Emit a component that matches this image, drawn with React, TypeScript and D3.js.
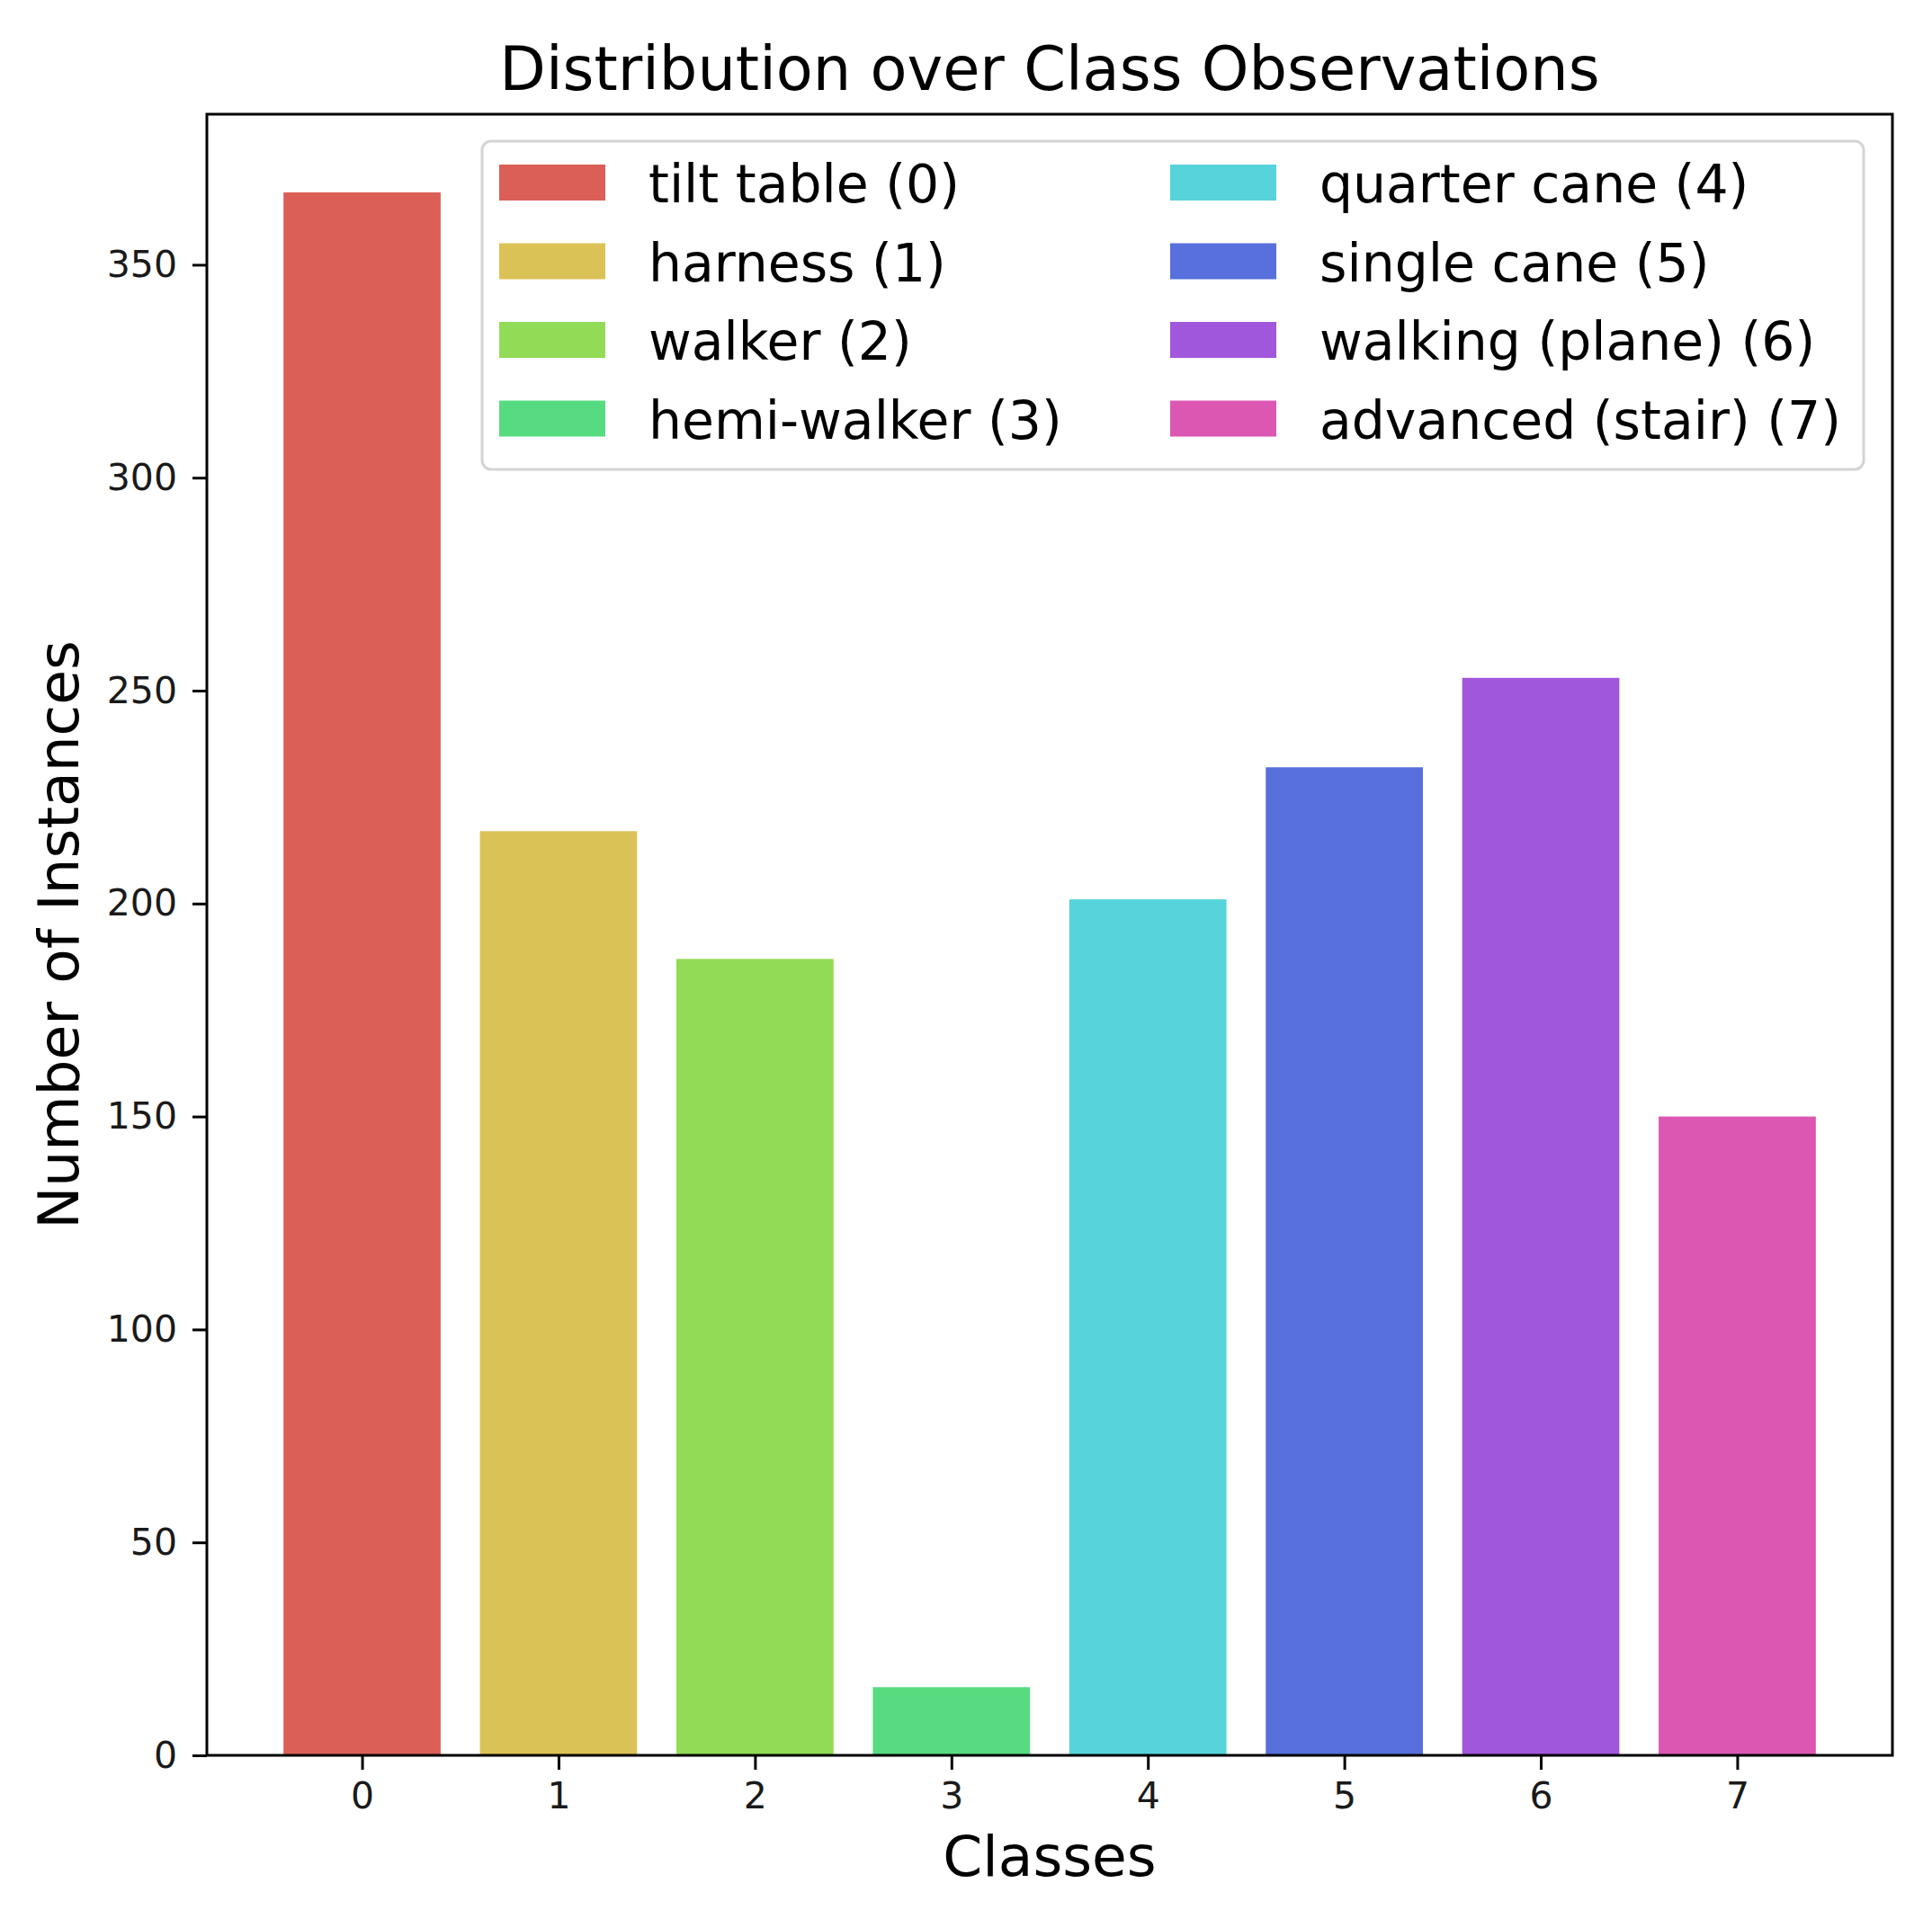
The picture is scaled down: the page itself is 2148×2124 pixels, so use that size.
import { useEffect, useRef } from "react";
import * as d3 from "d3";

const CLASSES = [0, 1, 2, 3, 4, 5, 6, 7];
const COUNTS = [367, 217, 187, 16, 201, 232, 253, 150];
const CLASS_NAMES = [
  "tilt table",
  "harness",
  "walker",
  "hemi-walker",
  "quarter cane",
  "single cane",
  "walking (plane)",
  "advanced (stair)",
];
const COLORS = ["#db5f57", "#dbc257", "#91db57", "#57db80", "#57d3db", "#5770db", "#a157db", "#db57b2"];
const Y_TICKS = [0, 50, 100, 150, 200, 250, 300, 350];

const WIDTH = 2148;
const HEIGHT = 2124;
const FONT = "'DejaVu Sans', 'Liberation Sans', sans-serif";

export default function App() {
  const svgRef = useRef<SVGSVGElement>(null);

  useEffect(() => {
    document.body.style.margin = "0";
    if (!svgRef.current) {
      return;
    }

    const margin = { top: 127, right: 44, bottom: 172, left: 230 };
    const svg = d3.select(svgRef.current);
    svg.selectAll("*").remove();

    // matplotlib style margins: bar extent +-0.4, 5% padding on x, 5% headroom on y
    const x = d3
      .scaleLinear()
      .domain([-0.4 - 0.39, CLASSES.length - 1 + 0.4 + 0.39])
      .range([margin.left, WIDTH - margin.right]);
    const y = d3
      .scaleLinear()
      .domain([0, d3.max(COUNTS)! * 1.05])
      .range([HEIGHT - margin.bottom, margin.top]);
    const barWidth = x(0.4) - x(-0.4);

    svg.append("rect").attr("width", WIDTH).attr("height", HEIGHT).attr("fill", "#ffffff");

    svg
      .append("g")
      .selectAll("rect")
      .data(CLASSES)
      .enter()
      .append("rect")
      .attr("x", (c) => x(c) - barWidth / 2)
      .attr("y", (c) => y(COUNTS[c]))
      .attr("width", barWidth)
      .attr("height", (c) => y(0) - y(COUNTS[c]))
      .attr("fill", (c) => COLORS[c]);

    const yAxis = svg
      .append("g")
      .attr("transform", `translate(${margin.left},0)`)
      .call(d3.axisLeft(y).tickValues(Y_TICKS).tickSize(16).tickPadding(17));
    const xAxis = svg
      .append("g")
      .attr("transform", `translate(0,${HEIGHT - margin.bottom})`)
      .call(d3.axisBottom(x).tickValues(CLASSES).tickSize(16).tickPadding(14).tickFormat(d3.format("d")));

    [yAxis, xAxis].forEach((axis) => {
      axis.select(".domain").remove();
      axis.selectAll("line").attr("stroke", "#000").attr("stroke-width", 3);
      axis
        .selectAll("text")
        .attr("fill", "#1a1a1a")
        .style("font-family", FONT)
        .style("font-size", "41px");
    });

    svg
      .append("rect")
      .attr("x", margin.left)
      .attr("y", margin.top)
      .attr("width", WIDTH - margin.left - margin.right)
      .attr("height", HEIGHT - margin.top - margin.bottom)
      .attr("fill", "none")
      .attr("stroke", "#000")
      .attr("stroke-width", 3);

    // legend, two columns of four
    const legend = svg.append("g").attr("transform", "translate(536,157)");
    legend
      .append("rect")
      .attr("width", 1536)
      .attr("height", 365)
      .attr("rx", 10)
      .attr("fill", "#ffffff")
      .attr("fill-opacity", 0.8)
      .attr("stroke", "#d4d4d4")
      .attr("stroke-width", 3);

    const items = legend
      .selectAll(".item")
      .data(CLASSES)
      .enter()
      .append("g")
      .attr("class", "item")
      .attr("transform", (c) => `translate(${19 + Math.floor(c / 4) * 746},${26 + (c % 4) * 87.5})`);

    items
      .append("rect")
      .attr("width", 118)
      .attr("height", 40)
      .attr("fill", (c) => COLORS[c]);

    items
      .append("text")
      .attr("x", 166)
      .attr("y", 42)
      .attr("fill", "#000")
      .style("font-family", FONT)
      .style("font-size", "58.4px")
      .text((c) => `${CLASS_NAMES[c]} (${c})`);

    svg
      .append("text")
      .attr("x", (margin.left + WIDTH - margin.right) / 2)
      .attr("y", 100)
      .attr("text-anchor", "middle")
      .style("font-family", FONT)
      .style("font-size", "67px")
      .text("Distribution over Class Observations");

    svg
      .append("text")
      .attr("x", (margin.left + WIDTH - margin.right) / 2)
      .attr("y", 2086)
      .attr("text-anchor", "middle")
      .style("font-family", FONT)
      .style("font-size", "63px")
      .text("Classes");

    svg
      .append("text")
      .attr("transform", `translate(87,${(margin.top + HEIGHT - margin.bottom) / 2}) rotate(-90)`)
      .attr("text-anchor", "middle")
      .style("font-family", FONT)
      .style("font-size", "63px")
      .text("Number of Instances");
  }, []);

  return <svg ref={svgRef} width={WIDTH} height={HEIGHT} style={{ display: "block" }} />;
}
